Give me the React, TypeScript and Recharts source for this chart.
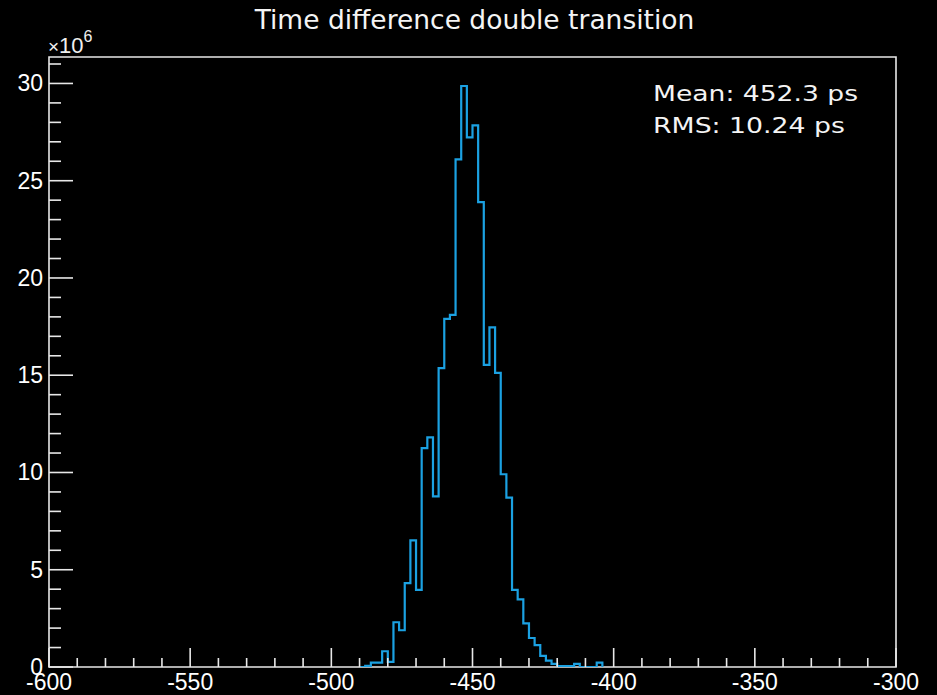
import React from 'react';
import { LineChart, Line, XAxis, YAxis, ReferenceArea } from 'recharts';

// Histogram bin left edges (ps) and bin contents (x 10^6)
const binEdges = [
  -490, -488, -486, -484, -482, -480, -478, -476, -474, -472, -470, -468, -466, -464, -462,
  -460, -458, -456, -454, -452, -450, -448, -446, -444, -442, -440, -438, -436, -434, -432,
  -430, -428, -426, -424, -422, -420, -418, -416, -414, -412, -410, -408, -406, -404,
];
const counts = [
  0, 0.06, 0.22, 0.22, 0.81, 0.26, 2.3, 1.89, 4.31, 6.51, 3.97, 11.25, 11.8, 8.77, 15.36,
  17.9, 18.1, 26.1, 29.87, 27.23, 27.84, 23.9, 15.53, 17.46, 15.12, 9.91, 8.71, 3.97, 3.48, 2.24,
  1.49, 1.12, 0.57, 0.33, 0.16, 0.04, 0.04, 0.04, 0.16, 0, 0, 0, 0.22, 0,
];

const xDomain: [number, number] = [-600, -300];
const yDomain: [number, number] = [0, 31.36];
const xTicks = [
  -600, -590, -580, -570, -560, -550, -540, -530, -520, -510, -500, -490, -480, -470, -460, -450,
  -440, -430, -420, -410, -400, -390, -380, -370, -360, -350, -340, -330, -320, -310, -300,
];
const xLabels = [-600, -550, -500, -450, -400, -350, -300];
const yTicks = [
  0, 1, 2, 3, 4, 5, 6, 7, 8, 9, 10, 11, 12, 13, 14, 15, 16, 17, 18, 19, 20, 21, 22, 23, 24, 25,
  26, 27, 28, 29, 30, 31,
];
const yLabels = [0, 5, 10, 15, 20, 25, 30];

const title = 'Time difference double transition';
const statsLines = ['Mean: 452.3 ps', 'RMS: 10.24 ps'];
const yExponent = '6';

const data = binEdges.map((x, i) => ({ x, y: counts[i] }));

const AXIS_COLOR = '#e8e8e8';
const LABEL_FONT = '"Liberation Sans", Arial, sans-serif';
const TEXT_FONT = '"DejaVu Sans", sans-serif';

const XTick = (props: any) => {
  const { x, y, payload } = props;
  const v = payload.value;
  const major = xLabels.includes(v);
  return (
    <g>
      <line x1={x} x2={x} y1={y} y2={y - (major ? 19 : 9)} stroke={AXIS_COLOR} strokeWidth={1.6} />
      {major && (
        <text x={x} y={y + 23} textAnchor="middle" fill="#ffffff" fontSize={23} fontFamily={LABEL_FONT}>
          {v}
        </text>
      )}
    </g>
  );
};

const YTick = (props: any) => {
  const { x, y, payload } = props;
  const v = payload.value;
  const major = yLabels.includes(v);
  return (
    <g>
      <line x1={x} x2={x + (major ? 24 : 12)} y1={y} y2={y} stroke={AXIS_COLOR} strokeWidth={1.6} />
      {major && (
        <text x={x - 6} y={y + 8} textAnchor="end" fill="#ffffff" fontSize={23} fontFamily={LABEL_FONT}>
          {v}
        </text>
      )}
    </g>
  );
};

export default function App() {
  return (
    <div style={{ position: 'absolute', left: 0, top: 0, width: 937, height: 695, background: '#000' }}>
      <LineChart
        width={937}
        height={695}
        data={data}
        margin={{ top: 57, right: 41, bottom: 0, left: 9 }}
      >
        <XAxis
          type="number"
          dataKey="x"
          domain={xDomain}
          ticks={xTicks}
          interval={0}
          allowDataOverflow
          height={28}
          tickSize={0}
          tickMargin={0}
          axisLine={false}
          tickLine={false}
          tick={<XTick />}
        />
        <YAxis
          type="number"
          domain={yDomain}
          ticks={yTicks}
          interval={0}
          allowDataOverflow
          width={40}
          tickSize={0}
          tickMargin={0}
          axisLine={false}
          tickLine={false}
          tick={<YTick />}
        />
        <Line
          type="stepAfter"
          dataKey="y"
          stroke="#1ba1e2"
          strokeWidth={2.2}
          dot={false}
          activeDot={false}
          isAnimationActive={false}
        />
        <ReferenceArea
          x1={xDomain[0]}
          x2={xDomain[1]}
          y1={yDomain[0]}
          y2={yDomain[1]}
          fill="none"
          fillOpacity={0}
          stroke={AXIS_COLOR}
          strokeWidth={1.6}
          ifOverflow="visible"
        />
      </LineChart>
      <svg
        width={937}
        height={695}
        style={{ position: 'absolute', left: 0, top: 0, pointerEvents: 'none' }}
      >
        <text x={474.5} y={29} textAnchor="middle" fill="#f4f4f4" fontSize={26.5} fontFamily={TEXT_FONT}>
          {title}
        </text>
        <text x={48} y={53} fill="#f0f0f0" fontFamily={LABEL_FONT}>
          <tspan fontSize={19}>×</tspan>
          <tspan fontSize={22}>10</tspan>
          <tspan fontSize={16} dy={-11}>{yExponent}</tspan>
        </text>
        {statsLines.map((s, i) => (
          <text
            key={s}
            x={653}
            y={101 + i * 32}
            fill="#f4f4f4"
            fontSize={21.5}
            fontFamily={TEXT_FONT}
            textLength={i === 0 ? 205 : 192}
            lengthAdjust="spacingAndGlyphs"
          >
            {s}
          </text>
        ))}
      </svg>
    </div>
  );
}
